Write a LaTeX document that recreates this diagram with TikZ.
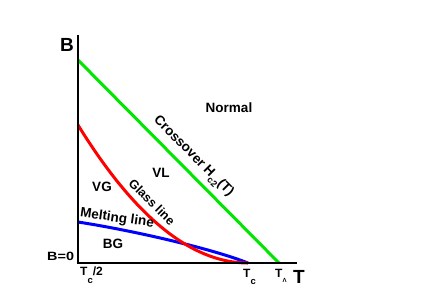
\documentclass[tikz,border=0pt]{standalone}
\usepackage{fontspec}
\setmainfont{Liberation Sans}
\newcommand{\lowsub}[3]{\raisebox{#2}{\fontsize{#3}{#3}\selectfont #1}}
\definecolor{gline}{RGB}{0,230,0}
\definecolor{rline}{RGB}{255,0,0}
\definecolor{bline}{RGB}{0,0,255}
\begin{document}
\begin{tikzpicture}[x=1pt,y=-1pt,
  lab/.style={font=\fontsize{13.5}{13.5}\selectfont\bfseries, inner sep=0pt},
  tick/.style={font=\fontsize{12}{12}\selectfont\bfseries, inner sep=0pt, anchor=base west},
  big/.style={font=\fontsize{19}{19}\selectfont\bfseries, inner sep=0pt, anchor=base west},
  axis/.style={line width=2.2pt, black},
  curve/.style={line width=3pt}]
\useasboundingbox (0,0) rectangle (436,305);
\coordinate (O) at (78,263);
\coordinate (ytop) at (78,35);
\coordinate (xend) at (297,263);
\coordinate (g0) at (78,60);
\coordinate (gT) at (279,263);
\coordinate (r0) at (78,125);
\coordinate (Tc) at (248,263);
\coordinate (b0) at (78,222);
% curves
\draw[curve, gline] (g0) -- (gT);
\draw[curve, bline] (b0) .. controls (130,230) and (210,248) .. (Tc);
\draw[curve, rline] (r0) .. controls (134.67,217) and (191.33,263) .. (Tc);
% axes
\draw[axis] (ytop) -- (O) -- (xend);
% labels
\node[big] (Blab) at (60,52) {B};
\node[big] (Tlab) at (293,283) {T};
\node[tick] (b0lab) at (47,260) {\scalebox{1.2}[1]{B=0}};
\node[tick] (tc2) at (80,275.5) {T\lowsub{c}{-7.5pt}{9.5}/2};
\node[tick] (tclab) at (243,277) {T\lowsub{c}{-7pt}{9.5}};
\node[tick] (tlam) at (275,277) {T\lowsub{Λ}{-5pt}{6}};
\node[lab] (normal) at (229,107.5) {Normal};
\node[lab] (vl) at (161,173) {VL};
\node[lab] (vg) at (102,187) {VG};
\node[lab] (bg) at (113,243.5) {BG};
\node[lab, rotate=-8] (melt) at (117,218.5) {Melting line};
\node[lab, rotate=-45, font=\fontsize{12.5}{12.5}\selectfont\bfseries] (glass) at (152,202) {Glass line};
\node[lab, rotate=-45.3] (cross) at (193,157) {Crossover H\lowsub{c2}{-4.5pt}{9}(T)};
\end{tikzpicture}
\end{document}
